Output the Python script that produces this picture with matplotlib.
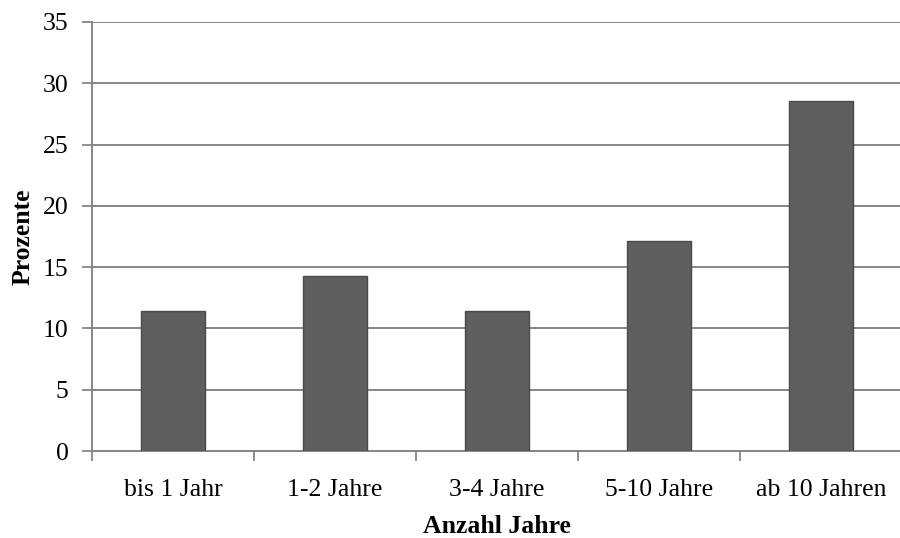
import numpy as np
import matplotlib
matplotlib.use("Agg")
import matplotlib.pyplot as plt

# Anteil der Befragten nach Anzahl Jahre
kategorien = ["bis 1 Jahr", "1-2 Jahre", "3-4 Jahre", "5-10 Jahre", "ab 10 Jahren"]
prozente = [11.43, 14.29, 11.43, 17.14, 28.57]
y_ticks = [0, 5, 10, 15, 20, 25, 30, 35]

plt.rcParams['font.family'] = ['Liberation Serif', 'DejaVu Serif']

GRAU = "#868686"

fig = plt.figure(figsize=(9.0, 5.38), dpi=100)
ax = fig.add_axes([92 / 900, 1 - 451 / 538, 810 / 900, 429 / 538])

x = np.arange(len(kategorien))
ax.bar(x, prozente, width=0.4, color="#5f5f5f", edgecolor="#4a4a4a",
       linewidth=1.0, zorder=3)

ax.set_xlim(-0.5, len(kategorien) - 0.5)
ax.set_ylim(0, 35)
ax.set_yticks(y_ticks)
ax.yaxis.grid(True, color=GRAU, linewidth=1.4, zorder=0)
ax.set_axisbelow(True)

# Kategoriegrenzen als Ticks, Beschriftung in der Mitte
ax.set_xticks(np.arange(len(kategorien) + 1) - 0.5)
ax.set_xticklabels([])
ax.set_xticks(x, minor=True)
ax.set_xticklabels(kategorien, minor=True)
ax.tick_params(axis='x', which='minor', length=0, pad=20, labelsize=18.5)
ax.tick_params(axis='x', which='major', length=7, width=1.3, color=GRAU)
ax.tick_params(axis='y', length=7, width=1.3, color=GRAU, pad=10, labelsize=18.5)

for s in ["top", "right"]:
    ax.spines[s].set_visible(False)
for s in ["left", "bottom"]:
    ax.spines[s].set_color(GRAU)
    ax.spines[s].set_linewidth(1.4)

ax.set_xlabel("Anzahl Jahre", fontsize=18.5, fontweight="bold", labelpad=10)
ax.set_ylabel("Prozente", fontsize=18.5, fontweight="bold", labelpad=6)

fig.savefig("out.png", dpi=100)
